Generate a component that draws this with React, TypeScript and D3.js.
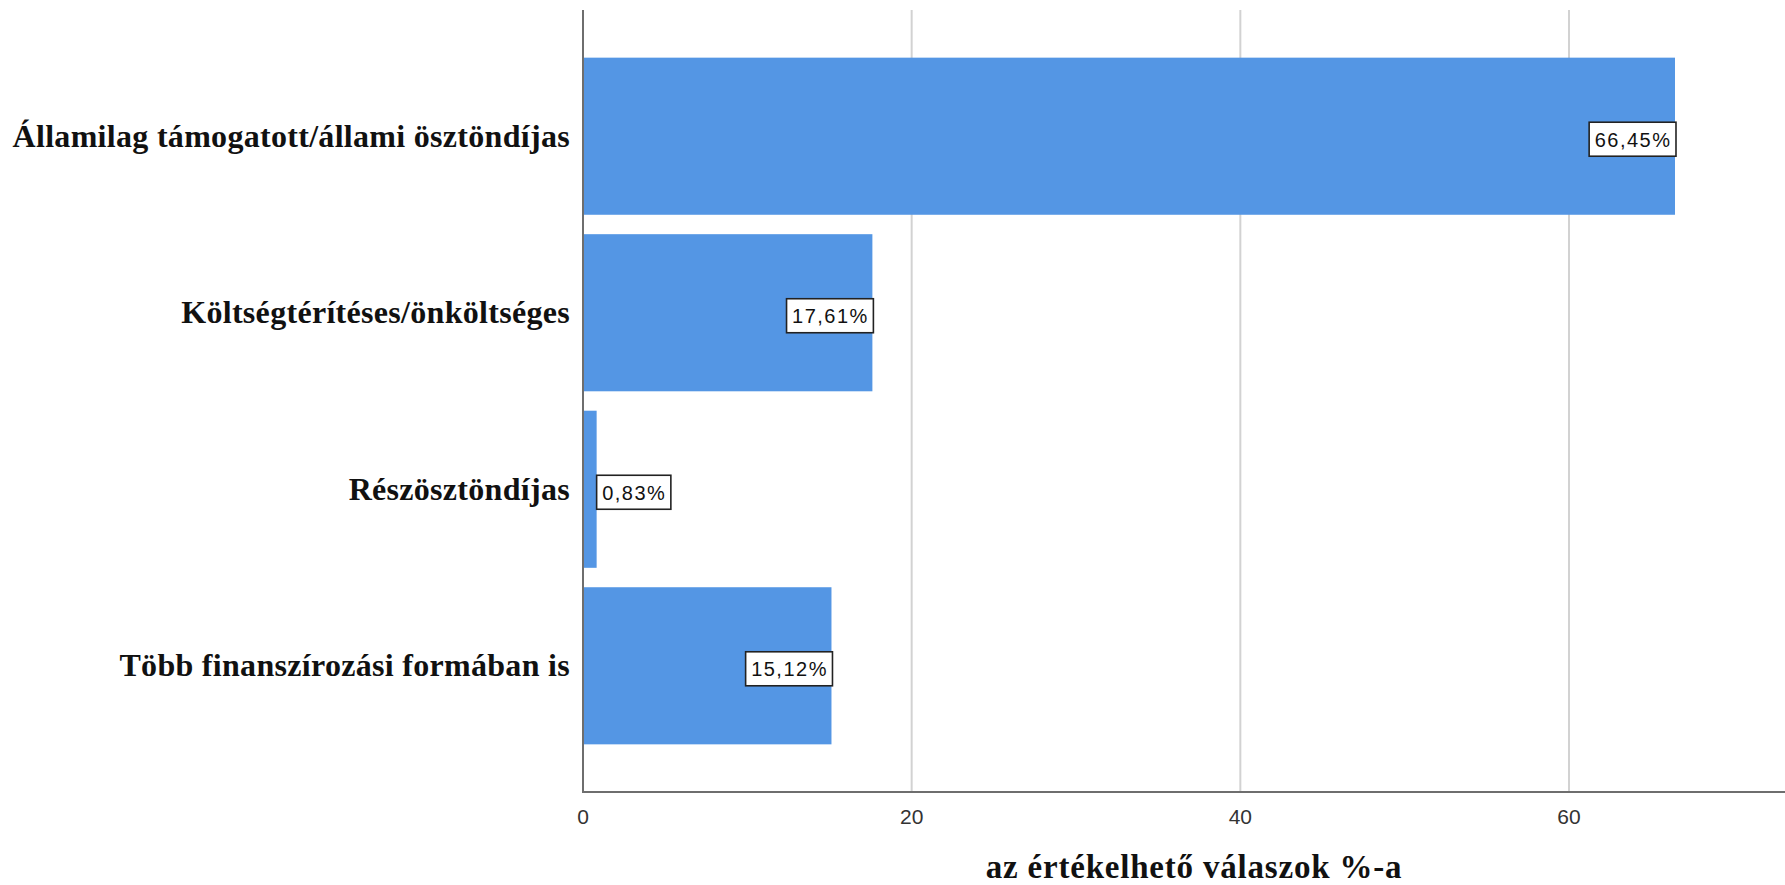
import React, { useEffect, useRef } from "react";
import * as d3 from "d3";

const categories = [
  "Államilag támogatott/állami ösztöndíjas",
  "Költségtérítéses/önköltséges",
  "Részösztöndíjas",
  "Több finanszírozási formában is",
];
const values = [66.45, 17.61, 0.83, 15.12];
const valueLabels = ["66,45%", "17,61%", "0,83%", "15,12%"];
const xTicks = [0, 20, 40, 60];
const xTitle = "az értékelhető válaszok %-a";

const W = 1785;
const H = 885;

export default function App() {
  const ref = useRef<SVGSVGElement>(null);
  useEffect(() => {
    const svg = d3.select(ref.current);
    svg.selectAll("*").remove();
    const left = 583;
    const top = 10;
    const bottom = 792;
    const x = d3.scaleLinear().domain([0, 60]).range([left, 1569]);
    const y = d3
      .scaleBand<string>()
      .domain(categories)
      .range([top, bottom])
      .paddingInner(0.11)
      .paddingOuter(0.27);

    // gridlines
    svg
      .append("g")
      .selectAll("line")
      .data(xTicks.filter((t) => t > 0))
      .join("line")
      .attr("x1", (d) => x(d))
      .attr("x2", (d) => x(d))
      .attr("y1", top)
      .attr("y2", bottom)
      .attr("stroke", "#d2d2d2")
      .attr("stroke-width", 2);

    // bars
    svg
      .append("g")
      .selectAll("rect")
      .data(values)
      .join("rect")
      .attr("x", x(0))
      .attr("y", (_, i) => y(categories[i])!)
      .attr("width", (d) => x(d) - x(0))
      .attr("height", y.bandwidth())
      .attr("fill", "#5496e4");

    // axes
    svg
      .append("line")
      .attr("x1", left)
      .attr("x2", left)
      .attr("y1", top)
      .attr("y2", bottom)
      .attr("stroke", "#6e6e6e")
      .attr("stroke-width", 2);
    svg
      .append("line")
      .attr("x1", left - 1)
      .attr("x2", W)
      .attr("y1", bottom)
      .attr("y2", bottom)
      .attr("stroke", "#6e6e6e")
      .attr("stroke-width", 2);

    // tick labels
    svg
      .append("g")
      .selectAll("text")
      .data(xTicks)
      .join("text")
      .attr("x", (d) => x(d))
      .attr("y", 824)
      .attr("text-anchor", "middle")
      .attr("font-family", "'Liberation Sans', Arial, sans-serif")
      .attr("font-size", 21)
      .attr("fill", "#333")
      .text((d) => String(d));

    // category labels
    svg
      .append("g")
      .selectAll("text")
      .data(categories)
      .join("text")
      .attr("x", 570)
      .attr("y", (d) => y(d)! + y.bandwidth() / 2 + 10.3)
      .attr("text-anchor", "end")
      .attr("font-family", "'Liberation Serif', 'Times New Roman', serif")
      .attr("font-weight", "bold")
      .attr("font-size", 32)
      .attr("letter-spacing", 0.3)
      .attr("fill", "#111")
      .text((d) => d);

    // value labels
    const lg = svg.append("g");
    values.forEach((v, i) => {
      const cy = y(categories[i])! + y.bandwidth() / 2;
      const g = lg.append("g");
      const t = g
        .append("text")
        .attr("font-family", "'Liberation Sans', Arial, sans-serif")
        .attr("font-size", 20)
        .attr("letter-spacing", 1.5)
        .attr("fill", "#111")
        .text(valueLabels[i]);
      const tw = (t.node() as SVGTextElement).getComputedTextLength();
      const bw = tw + 10;
      const bh = 34;
      const xe = x(v);
      const bx = bw + 4 < xe - x(0) ? xe + 1 - bw : xe;
      g.insert("rect", "text")
        .attr("x", bx)
        .attr("y", cy - 14)
        .attr("width", bw)
        .attr("height", bh)
        .attr("fill", "#fff")
        .attr("stroke", "#222")
        .attr("stroke-width", 1.6);
      t.attr("x", bx + 5.5).attr("y", cy + 10.5);
    });

    // axis title
    svg
      .append("text")
      .attr("x", 1194)
      .attr("y", 878)
      .attr("text-anchor", "middle")
      .attr("font-family", "'Liberation Serif', 'Times New Roman', serif")
      .attr("font-weight", "bold")
      .attr("font-size", 33)
      .attr("letter-spacing", 0.8)
      .attr("fill", "#111")
      .text(xTitle);
  }, []);
  return (
    <svg
      ref={ref}
      width={W}
      height={H}
      style={{ position: "absolute", left: 0, top: 0, background: "#fff" }}
    />
  );
}
